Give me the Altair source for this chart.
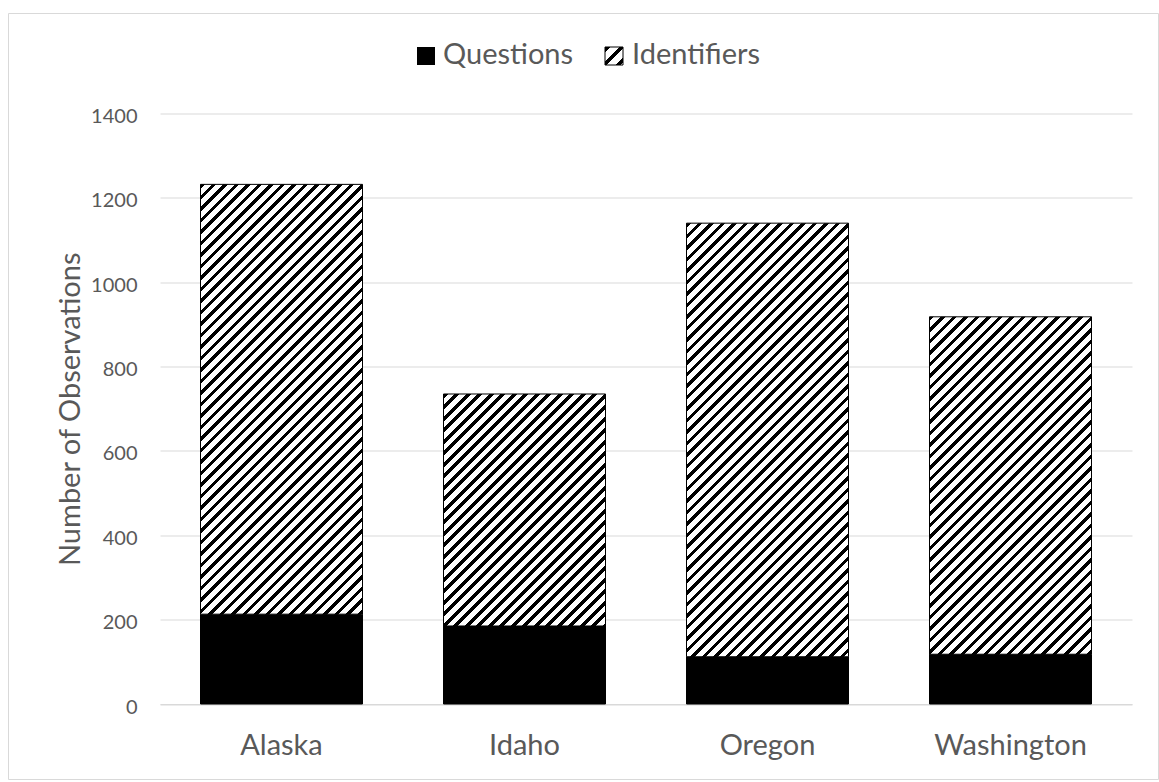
import altair as alt
import pandas as pd

# ---- data -----------------------------------------------------------------
states = ["Alaska", "Idaho", "Oregon", "Washington"]
questions = [213, 185, 112, 118]
identifiers = [1019, 550, 1028, 800]

y_ticks = [0, 200, 400, 600, 800, 1000, 1200, 1400]
legend_labels = ["Questions", "Identifiers"]
y_title = "Number of Observations"

# ---- layout / style --------------------------------------------------------
W_PLOT = 972
H_PLOT = 590.5
Y_MAX = 1400
PAD_INNER = 1 / 3
PAD_OUTER = 1 / 6
STRIPE = 11.5   # horizontal period of the hatching, px
INK = 0.4       # share of each period that is black

FONT = "Lato"
GREY = "#595959"
GRID = "#d9d9d9"

df = pd.DataFrame({"state": states, "questions": questions, "identifiers": identifiers})
df["total"] = df["questions"] + df["identifiers"]

STEP = W_PLOT / (len(states) - PAD_INNER + 2 * PAD_OUTER)
BAR_W = STEP * (1 - PAD_INNER)


def hatch(w, h, stripe=STRIPE):
    """Diagonal '/' hatching as a hard-stop linear gradient for a w x h box."""
    k = (w + h) / (w * w + h * h)
    period = stripe / (w + h)
    stops = []
    start = 0.0
    while start < 1:
        b = min(start + INK * period, 1)
        c = min(start + period, 1)
        stops += [
            {"offset": round(start, 6), "color": "black"},
            {"offset": round(b, 6), "color": "black"},
            {"offset": round(b, 6), "color": "white"},
            {"offset": round(c, 6), "color": "white"},
        ]
        start += period
    return {"gradient": "linear", "x1": 0, "y1": 0,
            "x2": k * w, "y2": k * h, "stops": stops}


x_enc = alt.X(
    "state:N",
    scale=alt.Scale(domain=states, paddingInner=PAD_INNER, paddingOuter=PAD_OUTER),
    axis=alt.Axis(title=None, labelAngle=0, ticks=False, grid=False,
                  labelFont=FONT, labelFontSize=29, labelColor=GREY,
                  labelPadding=27, domainColor=GRID, domainWidth=1),
)
y_scale = alt.Scale(domain=[0, Y_MAX], nice=False)
y_axis = alt.Axis(
    title=y_title, values=y_ticks, format="d", grid=True, gridColor=GRID, gridWidth=1,
    domain=False, ticks=False, labelFont=FONT, labelFontSize=20,
    labelColor=GREY, labelPadding=23, labelOffset=3,
    titleFont=FONT, titleFontSize=29, titleColor=GREY, titleFontWeight="normal",
    titleX=-81, titleY=H_PLOT / 2, titleAngle=270, titleBaseline="alphabetic",
    titleAlign="center",
)

base = alt.Chart(df)
one = alt.Data(values=[{"k": 0}])

# frame around the whole chart
frame = alt.Chart(one).mark_rect(fill="transparent", stroke=GRID, strokeWidth=1).encode(
    x=alt.value(-151.5), x2=alt.value(998.5), y=alt.value(-100), y2=alt.value(666)
)

q_bars = base.mark_bar(fill="black", stroke="black", strokeWidth=1).encode(
    x=x_enc, y=alt.Y("questions:Q", scale=y_scale, axis=y_axis)
)

id_layers = []
for s, n in zip(states, identifiers):
    h = n * H_PLOT / Y_MAX
    id_layers.append(
        base.transform_filter(alt.datum.state == s)
        .mark_bar(fill=hatch(BAR_W, h), stroke="black", strokeWidth=1)
        .encode(x=x_enc, y=alt.Y("total:Q", scale=y_scale, axis=y_axis), y2="questions:Q")
    )

# legend
leg_q_box = alt.Chart(one).mark_rect(fill="black").encode(
    x=alt.value(257), x2=alt.value(275), y=alt.value(-66.5), y2=alt.value(-48.5)
)
leg_i_box = alt.Chart(one).mark_rect(fill=hatch(18, 18, 14), stroke="black", strokeWidth=1).encode(
    x=alt.value(445), x2=alt.value(463), y=alt.value(-66.5), y2=alt.value(-48.5)
)
leg_text_style = dict(align="left", baseline="alphabetic", font=FONT, fontSize=29, color=GREY)
leg_q_text = alt.Chart(alt.Data(values=[{"label": legend_labels[0]}])).mark_text(**leg_text_style).encode(
    x=alt.value(283), y=alt.value(-49.5), text="label:N"
)
leg_i_text = alt.Chart(alt.Data(values=[{"label": legend_labels[1]}])).mark_text(**leg_text_style).encode(
    x=alt.value(472), y=alt.value(-49.5), text="label:N"
)

chart = alt.layer(
    frame, q_bars, *id_layers, leg_q_box, leg_i_box, leg_q_text, leg_i_text
).properties(
    width=W_PLOT, height=H_PLOT,
    autosize="none",
    padding={"left": 160, "top": 113.5, "right": 27, "bottom": 78},
    background="white",
).configure_view(stroke=None)

chart.save("out.html", embed_options={"renderer": "svg", "actions": False})
